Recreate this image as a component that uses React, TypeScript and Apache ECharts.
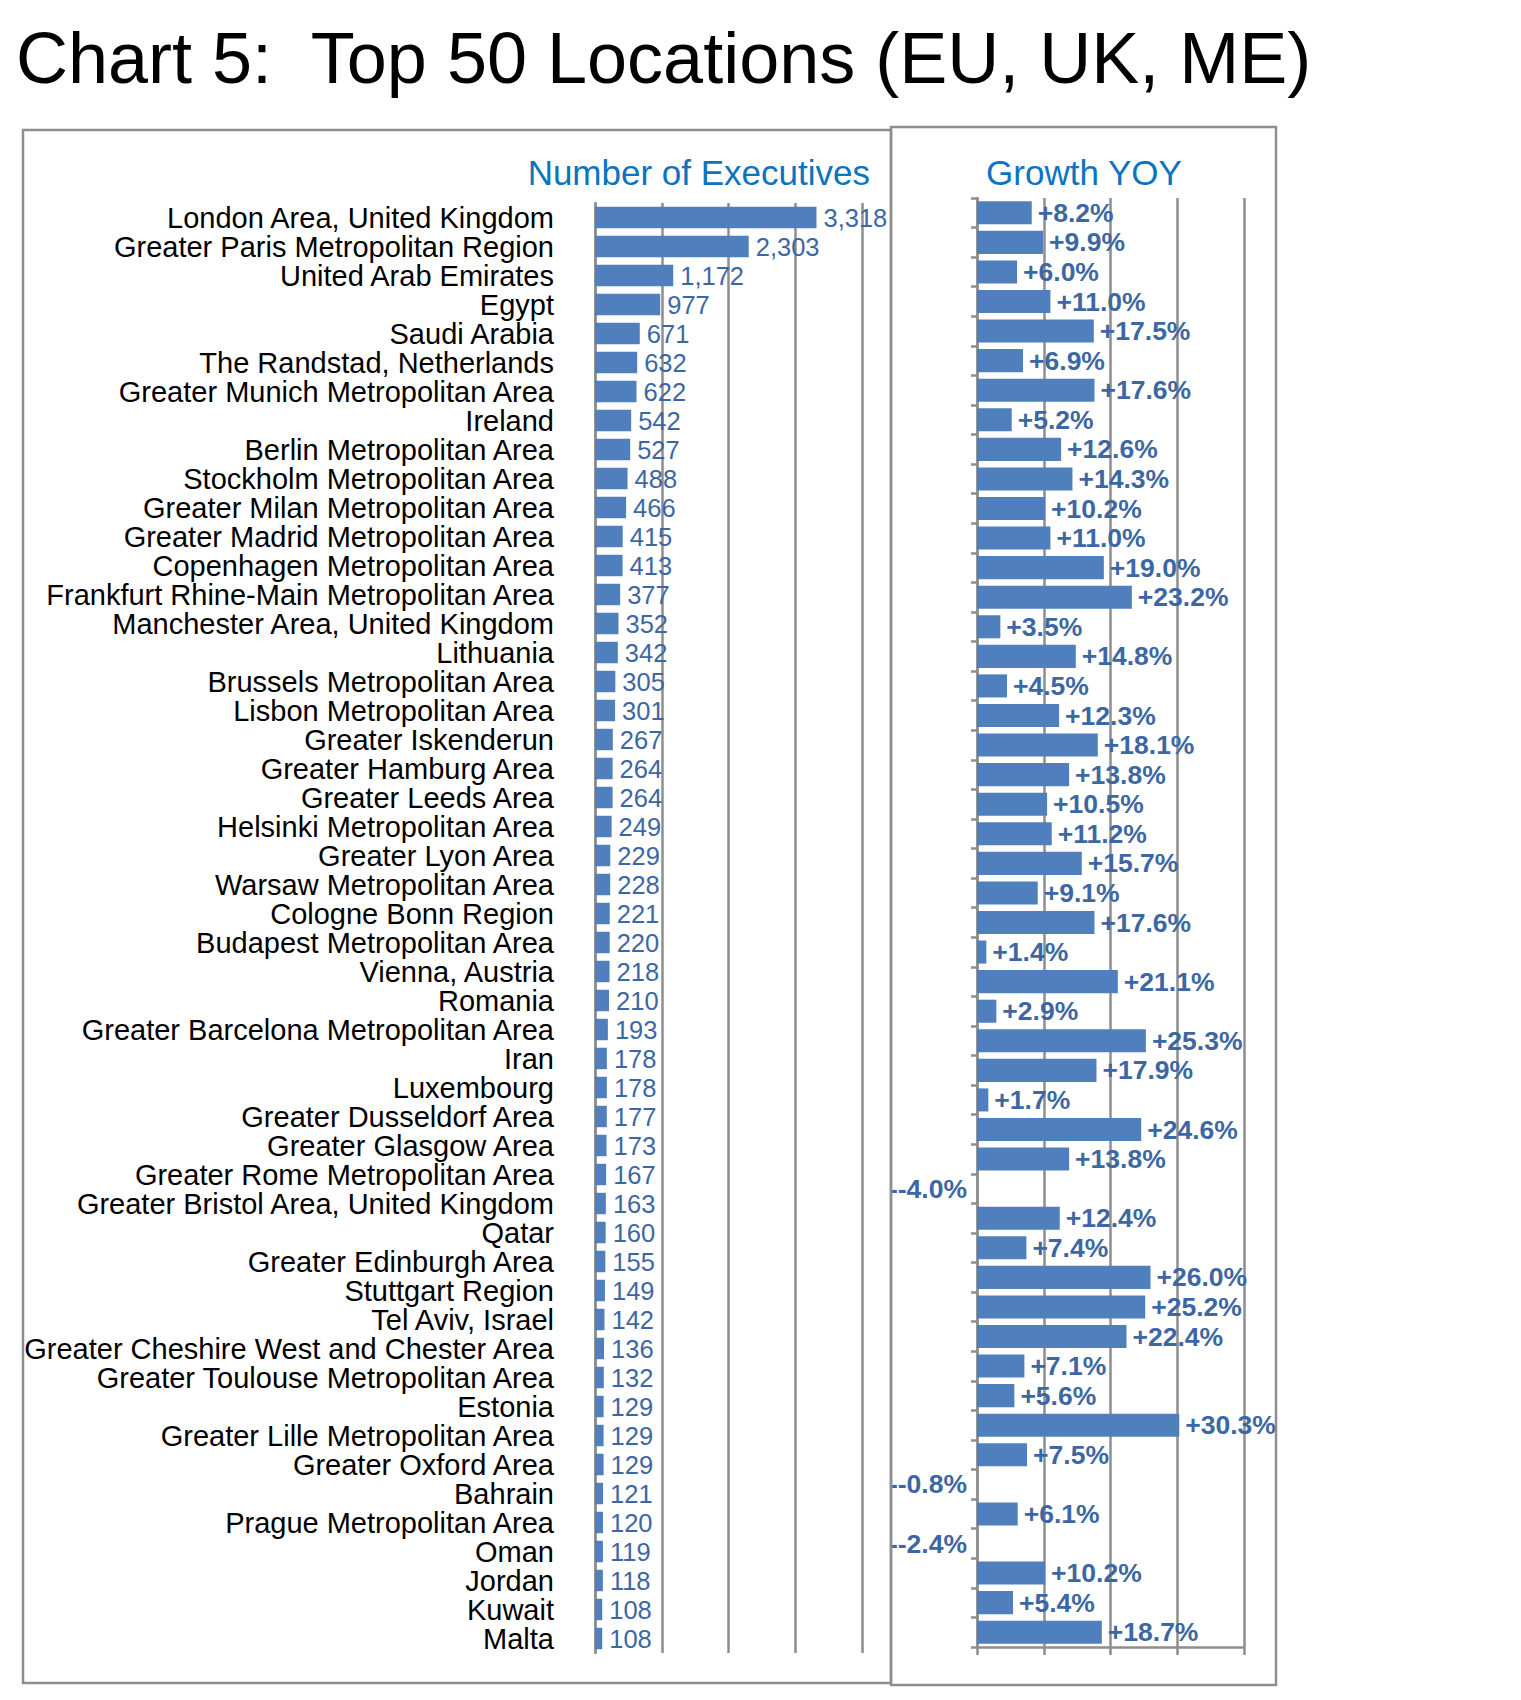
import React, { useEffect, useRef } from "react";
import * as echarts from "echarts";

const categories = [
  "London Area, United Kingdom",
  "Greater Paris Metropolitan Region",
  "United Arab Emirates",
  "Egypt",
  "Saudi Arabia",
  "The Randstad, Netherlands",
  "Greater Munich Metropolitan Area",
  "Ireland",
  "Berlin Metropolitan Area",
  "Stockholm Metropolitan Area",
  "Greater Milan Metropolitan Area",
  "Greater Madrid Metropolitan Area",
  "Copenhagen Metropolitan Area",
  "Frankfurt Rhine-Main Metropolitan Area",
  "Manchester Area, United Kingdom",
  "Lithuania",
  "Brussels Metropolitan Area",
  "Lisbon Metropolitan Area",
  "Greater Iskenderun",
  "Greater Hamburg Area",
  "Greater Leeds Area",
  "Helsinki Metropolitan Area",
  "Greater Lyon Area",
  "Warsaw Metropolitan Area",
  "Cologne Bonn Region",
  "Budapest Metropolitan Area",
  "Vienna, Austria",
  "Romania",
  "Greater Barcelona Metropolitan Area",
  "Iran",
  "Luxembourg",
  "Greater Dusseldorf Area",
  "Greater Glasgow Area",
  "Greater Rome Metropolitan Area",
  "Greater Bristol Area, United Kingdom",
  "Qatar",
  "Greater Edinburgh Area",
  "Stuttgart Region",
  "Tel Aviv, Israel",
  "Greater Cheshire West and Chester Area",
  "Greater Toulouse Metropolitan Area",
  "Estonia",
  "Greater Lille Metropolitan Area",
  "Greater Oxford Area",
  "Bahrain",
  "Prague Metropolitan Area",
  "Oman",
  "Jordan",
  "Kuwait",
  "Malta",
];

const executives = [
  3318, 2303, 1172, 977, 671, 632, 622, 542, 527, 488,
  466, 415, 413, 377, 352, 342, 305, 301, 267, 264,
  264, 249, 229, 228, 221, 220, 218, 210, 193, 178,
  178, 177, 173, 167, 163, 160, 155, 149, 142, 136,
  132, 129, 129, 129, 121, 120, 119, 118, 108, 108,
];

// Growth YOY (%) — the reference shows 49 rows in this panel
const growth = [
  8.2, 9.9, 6.0, 11.0, 17.5, 6.9, 17.6, 5.2, 12.6, 14.3,
  10.2, 11.0, 19.0, 23.2, 3.5, 14.8, 4.5, 12.3, 18.1, 13.8,
  10.5, 11.2, 15.7, 9.1, 17.6, 1.4, 21.1, 2.9, 25.3, 17.9,
  1.7, 24.6, 13.8, -4.0, 12.4, 7.4, 26.0, 25.2, 22.4, 7.1,
  5.6, 30.3, 7.5, -0.8, 6.1, -2.4, 10.2, 5.4, 18.7,
];

const execAxis = { min: 0, max: 4000, interval: 1000 };
const growthAxis = { min: 0, max: 40, interval: 10 };

const titleText = "Chart 5:  Top 50 Locations (EU, UK, ME)";
const leftTitle = "Number of Executives";
const rightTitle = "Growth YOY";

export default function App() {
  const ref = useRef<HTMLDivElement>(null);
  useEffect(() => {
    if (!ref.current) return;
    const chart = echarts.init(ref.current, null, { renderer: "svg" });
    const FONT = "'Liberation Sans', Arial, Helvetica, sans-serif";
    const GRID = "#8e8e8e";
    const BAR = "#4f80bd";
    const LBL = "#3d67a3";
    const TBLUE = "#0b74c0";

    const growthData = growth.map((v) =>
      v < 0 ? { value: v, label: { position: "left", distance: 10 } } : v
    );

    chart.setOption({
      animation: false,
      backgroundColor: "#ffffff",
      grid: [
        { left: 595, top: 203, width: 267, height: 1450, containLabel: false },
        { left: 977, top: 198, width: 267, height: 1449, containLabel: false },
      ],
      xAxis: [
        {
          gridIndex: 0,
          type: "value",
          min: execAxis.min,
          max: execAxis.max,
          interval: execAxis.interval,
          axisLine: { show: false },
          axisTick: { show: false },
          axisLabel: { show: false },
          splitLine: { show: true, lineStyle: { color: GRID, width: 2.5 } },
        },
        {
          gridIndex: 1,
          type: "value",
          min: growthAxis.min,
          max: growthAxis.max,
          interval: growthAxis.interval,
          axisLine: { show: true, lineStyle: { color: GRID, width: 2.5 } },
          axisTick: { show: true, length: 8, lineStyle: { color: GRID, width: 2.5 } },
          axisLabel: { show: false },
          splitLine: { show: true, lineStyle: { color: GRID, width: 2.5 } },
        },
      ],
      yAxis: [
        {
          gridIndex: 0,
          type: "category",
          inverse: true,
          data: categories,
          axisLine: { show: true, lineStyle: { color: GRID, width: 2.5 } },
          axisTick: { show: false },
          axisLabel: {
            interval: 0,
            margin: 41,
            fontSize: 29,
            fontFamily: FONT,
            color: "#000000",
          },
          splitLine: { show: false },
        },
        {
          gridIndex: 1,
          type: "category",
          inverse: true,
          data: categories.slice(0, growth.length),
          axisLine: { show: true, lineStyle: { color: GRID, width: 2.5 } },
          axisTick: { show: true, length: 6, lineStyle: { color: GRID, width: 2.5 } },
          axisLabel: { show: false },
          splitLine: { show: false },
        },
      ],
      series: [
        {
          type: "bar",
          xAxisIndex: 0,
          yAxisIndex: 0,
          data: executives,
          barCategoryGap: "26%",
          itemStyle: { color: BAR },
          label: {
            show: true,
            position: "right",
            distance: 7,
            fontSize: 25.5,
            fontFamily: FONT,
            color: LBL,
            formatter: (p: any) => Number(p.value).toLocaleString("en-US"),
          },
        },
        {
          type: "bar",
          xAxisIndex: 1,
          yAxisIndex: 1,
          data: growthData,
          barCategoryGap: "22%",
          itemStyle: { color: BAR },
          label: {
            show: true,
            position: "right",
            distance: 6,
            fontSize: 26.5,
            fontWeight: "bold",
            fontFamily: FONT,
            color: LBL,
            formatter: (p: any) => {
              const v = Number(p.value);
              return (v >= 0 ? "+" : "-") + v.toFixed(1) + "%";
            },
          },
        },
      ],
      graphic: [
        {
          type: "rect",
          shape: { x: 23, y: 130, width: 868, height: 1553 },
          style: { fill: "none", stroke: GRID, lineWidth: 2.5 },
          z: 10,
        },
        {
          type: "rect",
          shape: { x: 891, y: 127, width: 385, height: 1558 },
          style: { fill: "none", stroke: GRID, lineWidth: 2.5 },
          z: 10,
        },
        {
          type: "text",
          x: 16,
          y: 58,
          style: {
            text: titleText,
            fontSize: 72,
            fontFamily: FONT,
            fill: "#000000",
            textAlign: "left",
            textVerticalAlign: "middle",
          },
        },
        {
          type: "text",
          x: 870,
          y: 172,
          style: {
            text: leftTitle,
            fontSize: 35,
            fontFamily: FONT,
            fill: TBLUE,
            textAlign: "right",
            textVerticalAlign: "middle",
          },
        },
        {
          type: "text",
          x: 1084,
          y: 172,
          style: {
            text: rightTitle,
            fontSize: 35,
            fontFamily: FONT,
            fill: TBLUE,
            textAlign: "center",
            textVerticalAlign: "middle",
          },
        },
      ],
    });
    return () => chart.dispose();
  }, []);
  return (
    <div
      ref={ref}
      style={{ position: "absolute", left: 0, top: 0, width: 1521, height: 1700, background: "#fff" }}
    />
  );
}
